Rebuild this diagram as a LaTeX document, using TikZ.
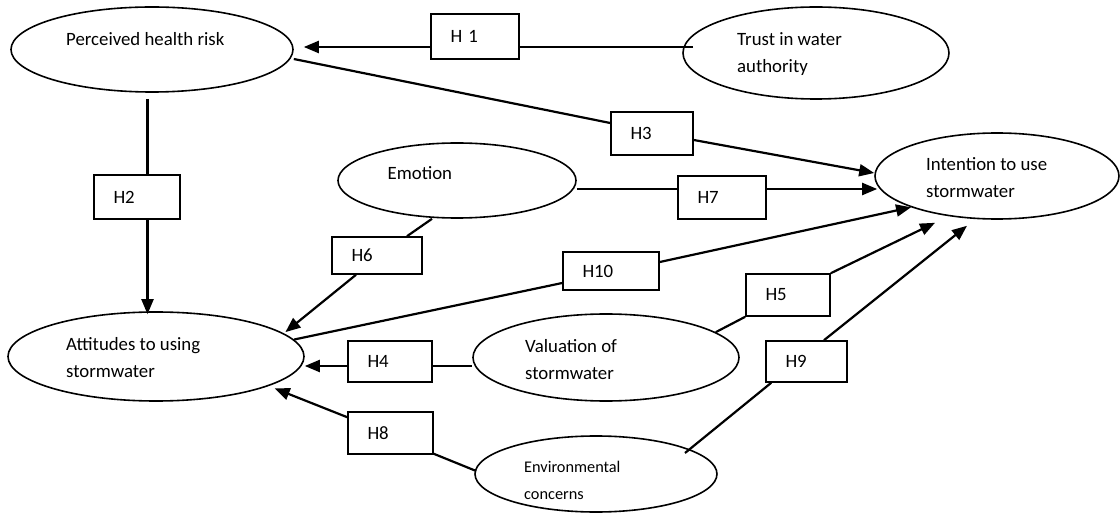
\documentclass[tikz,border=0pt]{standalone}
\usepackage{fontspec}
\setmainfont{Carlito}
\usetikzlibrary{shapes.geometric,arrows.meta,calc}
\tikzset{
  fac/.style={ellipse, draw, line width=1.6pt, inner sep=0pt},
  ftxt/.style={anchor=west, inner sep=0pt, align=left, font=\fontsize{18.8}{27}\selectfont},
  hyp/.style={rectangle, draw, fill=white, line width=1.6pt, inner xsep=19.5pt, inner ysep=0pt, minimum height=43pt, text width=#1, align=left, font=\fontsize{18.8}{23}\selectfont},
  link/.style={line width=2.2pt},
  arr/.style={link, -{Triangle[length=15pt,width=12pt]}}
}
\begin{document}
\begin{tikzpicture}[x=1pt, y=-1pt]
	\useasboundingbox (0,0) rectangle (1120,513);
	% factors
	\node[fac, minimum width=282pt, minimum height=85pt] (phr) at (152,49.5) {};
	\node[fac, minimum width=266pt, minimum height=92pt] (trust) at (816,53) {};
	\node[fac, minimum width=244pt, minimum height=86pt] (intent) at (997,176) {};
	\node[fac, minimum width=238pt, minimum height=75pt] (emo) at (457,180.5) {};
	\node[fac, minimum width=296pt, minimum height=89pt] (att) at (156,356.5) {};
	\node[fac, minimum width=266pt, minimum height=87pt] (valu) at (606,357.5) {};
	\node[fac, minimum width=242pt, minimum height=76pt] (env) at (596,474) {};

	\node[ftxt] (phrtxt) at (66,39) {Perceived health risk};
	\node[ftxt] (trusttxt) at (737,54) {Trust in water\\authority};
	\node[ftxt] (intenttxt) at (926,178) {Intention to use\\stormwater};
	\node[ftxt] (emotxt) at (387.5,173) {Emotion};
	\node[ftxt] (atttxt) at (66,358) {Attitudes to using\\stormwater};
	\node[ftxt] (valutxt) at (525,359.5) {Valuation of\\stormwater};
	\node[ftxt, font=\fontsize{16.3}{27}\selectfont] (envtxt) at (524,480) {Environmental\\concerns};

	% hypotheses
	\node[hyp=49pt, minimum height=45pt] (h1) at (475,36.5) {H 1};
	\node[hyp=47pt, minimum height=44pt] (h2) at (137,197) {H2};
	\node[hyp=43pt] (h3) at (652,133.5) {H3};
	\node[hyp=51pt, minimum height=37pt] (h6) at (377,255.5) {H6};
	\node[hyp=49pt] (h7) at (722,197.5) {H7};
	\node[hyp=57pt, minimum height=38pt] (h10) at (611,271) {H10};
	\node[hyp=45pt, minimum height=41pt] (h4) at (390,361.5) {H4};
	\node[hyp=46pt, minimum height=42pt] (h8) at (390.5,433) {H8};
	\node[hyp=45pt, minimum height=42pt] (h5) at (788,295) {H5};
	\node[hyp=42pt, minimum height=41pt] (h9) at (806.5,361.5) {H9};

	% paths
	\draw[link] ($(trust.west)+(11,-6)$) -- ($(h1.east)+(0,10.5)$);
	\draw[arr] ($(h1.west)+(0,10.5)$) -- ($(phr.east)+(10,-2.5)$);

	\draw[link] ($(phr.south)+(-4.5,6)$) -- ($(h2.north)+(10.5,0)$);
	\draw[arr] ($(h2.south)+(10.5,0)$) -- ($(att.north)+(-8.5,3)$);

	\draw[link] ($(phr.east)+(0,9.5)$) -- ($(h3.west)+(0,-10.5)$);
	\draw[arr] ($(h3.east)+(0,6.5)$) -- ($(intent.west)+(0,-3)$);

	\draw[link] ($(emo.east)+(0,8.5)$) -- ($(h7.west)+(0,-8.5)$);
	\draw[arr] ($(h7.east)+(0,-8.5)$) -- ($(intent.west)+(3,13)$);

	\draw[link] ($(emo.south)+(-25,0)$) -- ($(h6.north)+(30,0)$);
	\draw[arr] ($(h6.south)+(-21,0)$) -- ($(att.11)+(4,0)$);

	\draw[link] (att.7) -- ($(h10.west)+(0,12)$);
	\draw[arr] ($(h10.east)+(0,-9)$) -- (intent.200);

	\draw[link] ($(valu.west)+(0,8.5)$) -- ($(h4.east)+(0,4.5)$);
	\draw[arr] ($(h4.west)+(0,4.5)$) -- ($(att.east)+(0,9.5)$);

	\draw[link] ($(env.west)+(2,-3)$) -- ($(h8.south east)+(0,-1)$);
	\draw[arr] ($(h8.north west)+(0,6)$) -- ($(att.-15)+(7,2)$);

	\draw[link] (valu.13) -- (h5.south west);
	\draw[arr] (h5.north east) -- ($(intent.south)+(-62,3)$);

	\draw[link] ($(env.center)+(89,-21)$) -- ($(h9.south west)+(6,0)$);
	\draw[arr] ($(h9.north)+(17.5,0)$) -- ($(intent.south)+(-30,6)$);
\end{tikzpicture}
\end{document}
